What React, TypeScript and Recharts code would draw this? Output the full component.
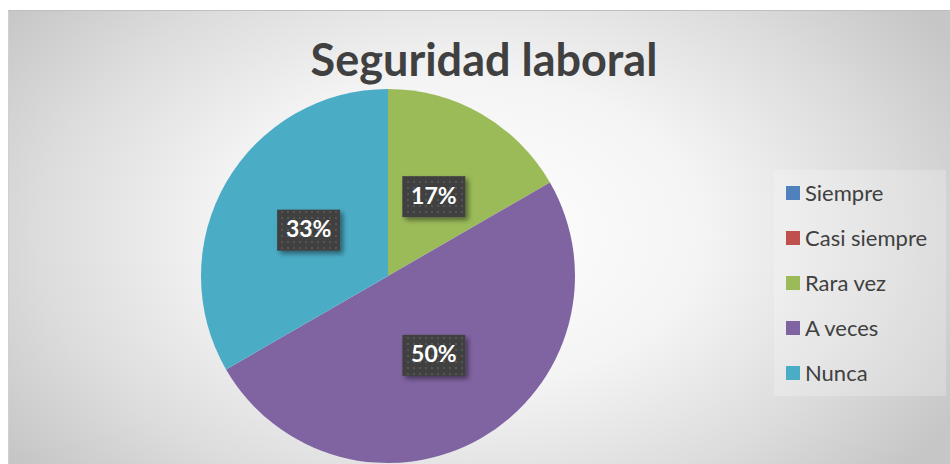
import { PieChart, Pie, Cell, Legend } from 'recharts'

// Survey answers (count of responses)
const categories = ['Siempre', 'Casi siempre', 'Rara vez', 'A veces', 'Nunca']
const responses = [0, 0, 1, 3, 2]
const sliceColors = ['#4f81bd', '#c0504d', '#9bbb59', '#8064a2', '#4bacc6']
const chartTitle = 'Seguridad laboral'

const data = categories.map((name, i) => ({ name, value: responses[i] }))

const RAD = Math.PI / 180
const FONT = 'Lato, "Open Sans", sans-serif'

// dark callout box with the percentage
function PercentLabel(props: any) {
  const { cx, cy, midAngle, outerRadius, percent } = props
  if (!percent) return null
  const r = outerRadius * 0.49
  const x = cx + r * Math.cos(-midAngle * RAD)
  const y = cy + r * Math.sin(-midAngle * RAD)
  const w = 63
  const h = 41
  return (
    <g>
      <rect x={x - w / 2} y={y - h / 2} width={w} height={h} fill="#404040" filter="url(#boxShadow)" />
      <rect x={x - w / 2} y={y - h / 2} width={w} height={h} fill="url(#dots)" />
      <text
        x={x}
        y={y + 1}
        textAnchor="middle"
        dominantBaseline="middle"
        fill="#ffffff"
        fontFamily={FONT}
        fontWeight={700}
        fontSize={23}
      >
        {`${Math.round(percent * 100)}%`}
      </text>
    </g>
  )
}

function LegendList() {
  return (
    <div style={{ fontFamily: FONT, fontSize: 22, color: '#404040' }}>
      {categories.map((c, i) => (
        <div key={c} style={{ display: 'flex', alignItems: 'center', height: 45 }}>
          <span style={{ width: 14, height: 14, background: sliceColors[i], marginRight: 5 }} />
          <span>{c}</span>
        </div>
      ))}
    </div>
  )
}

export default function App() {
  return (
    <>
      <style>{'body{margin:0;overflow:hidden}'}</style>
      <svg width={0} height={0} style={{ position: 'absolute' }}>
        <defs>
          <pattern id="dots" width={6} height={6} patternUnits="userSpaceOnUse">
            <circle cx={3} cy={3} r={1} fill="#5c5c5c" />
          </pattern>
          <filter id="boxShadow" x="-30%" y="-30%" width="170%" height="170%">
            <feDropShadow dx={3} dy={3} stdDeviation={2.5} floodColor="#000" floodOpacity={0.45} />
          </filter>
        </defs>
      </svg>
      <div
        style={{
          position: 'absolute',
          left: 8,
          top: 10,
          width: 950,
          height: 460,
          borderTop: '1px solid #bfbfbf',
          borderLeft: '1px solid #d0d0d0',
          background:
            'radial-gradient(ellipse 60% 80% at 48% 48%, #ffffff 0%, #f4f4f4 42%, #dcdcdc 75%, #c6c6c6 100%)',
          overflow: 'hidden',
        }}
      >
        <div
          style={{
            position: 'absolute',
            left: 765,
            top: 159,
            width: 172,
            height: 226,
            background: 'rgba(255,255,255,0.22)',
          }}
        />
        <div
          style={{
            position: 'absolute',
            left: 0,
            width: 950,
            top: 21,
            textAlign: 'center',
            fontFamily: FONT,
            fontWeight: 700,
            fontSize: 45,
            color: '#404040',
            transform: 'translateX(0px)',
          }}
        >
          {chartTitle}
        </div>
        <PieChart
          width={950}
          height={460}
          margin={{ top: 0, right: 0, bottom: 0, left: 0 }}
          style={{ position: 'absolute', left: 0, top: 0 }}
        >
          <Pie
            data={data}
            dataKey="value"
            nameKey="name"
            cx={379}
            cy={265}
            outerRadius={187}
            startAngle={90}
            endAngle={-270}
            stroke="none"
            labelLine={false}
            label={PercentLabel}
            isAnimationActive={false}
          >
            {data.map((d, i) => (
              <Cell key={d.name} fill={sliceColors[i]} />
            ))}
          </Pie>
          <Legend
            content={() => <LegendList />}
            wrapperStyle={{ position: 'absolute', left: 777, top: 159, width: 170 }}
          />
        </PieChart>
      </div>
    </>
  )
}
